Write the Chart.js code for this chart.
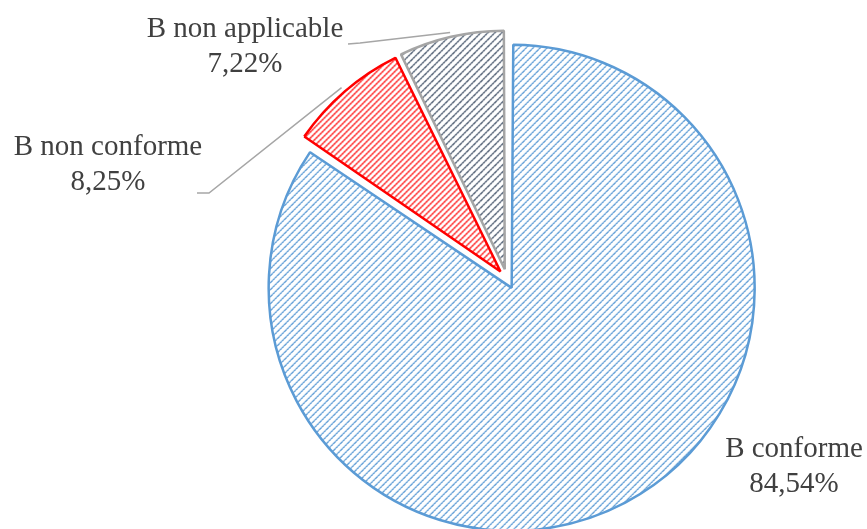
<!DOCTYPE html>
<html>
<head>
<meta charset="utf-8">
<script src="https://cdn.jsdelivr.net/npm/chart.js@4"></script>
<style>
  html, body { margin: 0; padding: 0; background: #ffffff; }
  #wrap { width: 867px; height: 529px; position: relative; }
</style>
</head>
<body>
<div id="wrap"><canvas id="c" width="867" height="529"></canvas></div>
<script>
const categories = ['B conforme', 'B non conforme', 'B non applicable'];
const values = [84.54, 8.25, 7.22];
const sliceColors = ['#5b9bd5', '#ff0000', '#44546a'];
const borderColors = ['#5b9bd5', '#ff0000', '#a5a5a5'];
const stripeSpacing = [7, 6, 7];

// label centres (middle of the two-line block) and leader line anchor points
const labelLayout = [
  { cx: 794, cy: 462, leader: null },
  { cx: 108, cy: 160, leader: [[197, 193], [209, 193]] },
  { cx: 245, cy: 42,  leader: [[348, 44], [360, 43]] }
];

function makePattern(color, s) {
  const cv = document.createElement('canvas');
  cv.width = s; cv.height = s;
  const g = cv.getContext('2d');
  g.fillStyle = '#ffffff';
  g.fillRect(0, 0, s, s);
  g.fillStyle = color;
  for (let i = 0; i < s; i++) {
    g.globalAlpha = (i % 2 === 0) ? 1 : 0.85;
    g.fillRect(i, s - 1 - i, 1, 1);
    g.globalAlpha = (i % 2 === 0) ? 0.9 : 0.5;
    g.fillRect((i + 1) % s, s - 1 - i, 1, 1);
  }
  g.globalAlpha = 1;
  return g.createPattern(cv, 'repeat');
}

function fmt(v) { return v.toFixed(2).replace('.', ',') + '%'; }

const labelPlugin = {
  id: 'sliceLabels',
  afterDatasetsDraw(chart) {
    const ctx = chart.ctx;
    const meta = chart.getDatasetMeta(0);
    ctx.save();
    ctx.font = '29px "Liberation Serif", "Times New Roman", serif';
    ctx.fillStyle = '#404040';
    ctx.textAlign = 'center';
    ctx.textBaseline = 'alphabetic';
    meta.data.forEach((arc, i) => {
      const p = arc.getProps(['x', 'y', 'startAngle', 'endAngle', 'outerRadius'], true);
      const off = (arc.options.offset || 0) / 4;
      const mid = (p.startAngle + p.endAngle) / 2;
      const L = labelLayout[i];
      if (L.leader) {
        const rr = off + p.outerRadius + off;
        const ax = p.x + Math.cos(mid) * rr;
        const ay = p.y + Math.sin(mid) * rr;
        ctx.strokeStyle = '#a6a6a6';
        ctx.lineWidth = 1.5;
        ctx.beginPath();
        ctx.moveTo(L.leader[0][0], L.leader[0][1]);
        ctx.lineTo(L.leader[1][0], L.leader[1][1]);
        ctx.lineTo(ax, ay);
        ctx.stroke();
      }
      ctx.fillText(categories[i], L.cx, L.cy - 5);
      ctx.fillText(fmt(values[i]), L.cx, L.cy + 30);
    });
    ctx.restore();
  }
};

new Chart(document.getElementById('c'), {
  type: 'pie',
  data: {
    labels: categories,
    datasets: [{
      data: values,
      backgroundColor: sliceColors.map((c, i) => makePattern(c, stripeSpacing[i])),
      borderColor: borderColors,
      borderWidth: 2.5,
      offset: 40,
      hoverOffset: 0
    }]
  },
  options: {
    responsive: false,
    animation: false,
    radius: 233,
    layout: { padding: { left: 147, right: 0, top: 29, bottom: 0 } },
    plugins: { legend: { display: false }, tooltip: { enabled: false } },
    events: []
  },
  plugins: [labelPlugin]
});
</script>
</body>
</html>
